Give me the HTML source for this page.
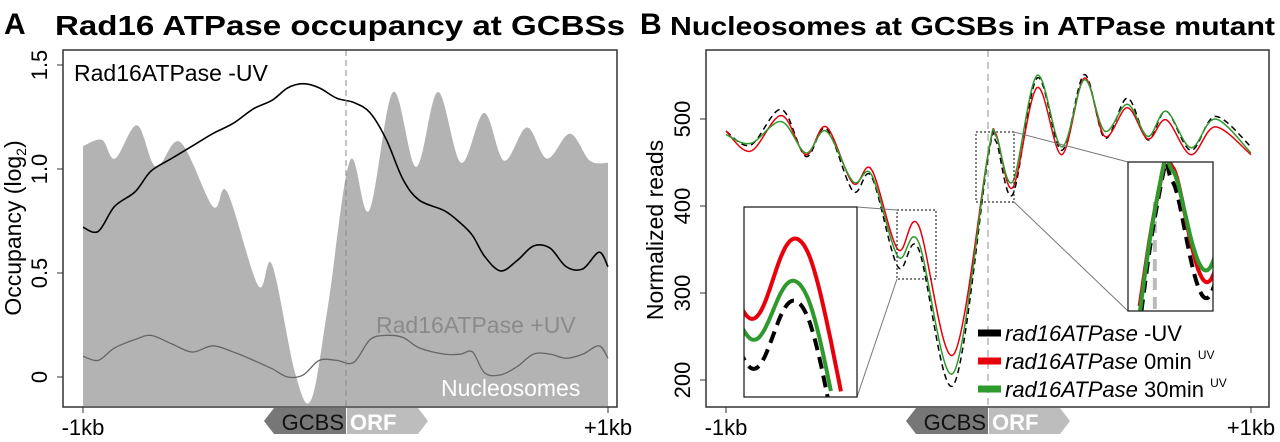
<!DOCTYPE html>
<html><head><meta charset="utf-8"><style>
html,body{margin:0;padding:0;background:#fff;width:1280px;height:442px;overflow:hidden;}
svg{display:block;font-family:"Liberation Sans",Arial,sans-serif;}
</style></head><body>
<svg id="fig" width="1280" height="442" viewBox="0 0 1280 442" xmlns="http://www.w3.org/2000/svg">
<defs>
<clipPath id="clipA"><rect x="63" y="50" width="554" height="357"/></clipPath>
<clipPath id="clipB"><rect x="706" y="50" width="563" height="357"/></clipPath>
<clipPath id="clipI1"><rect x="744" y="207" width="113" height="190"/></clipPath>
<clipPath id="clipI2"><rect x="1128" y="162" width="85" height="149"/></clipPath>
</defs>
<text x="4" y="34" font-size="30" font-weight="bold">A</text>
<text x="55" y="35" font-size="28" font-weight="bold" textLength="570" lengthAdjust="spacingAndGlyphs">Rad16 ATPase occupancy at GCBSs</text>
<text x="640" y="34" font-size="30" font-weight="bold">B</text>
<text x="670" y="35" font-size="26" font-weight="bold" textLength="605" lengthAdjust="spacingAndGlyphs">Nucleosomes at GCSBs in ATPase mutant</text>
<g id="pA"></g>
<g id="pB"></g>
</svg>
<script>
// ---- Panel A data (bp positions, log2 occupancy) ----
const nucPos=[-1000,-928,-878,-794,-722,-630,-505,-451,-333,-280,-192,-131,-67,17,90,181,269,352,440,528,604,691,768,855,931,1000];
const nucVal=[1.11,1.14,1.05,1.21,1.01,1.13,0.82,0.89,0.44,0.54,0.02,-0.11,0.34,1.04,0.80,1.37,1.01,1.37,1.03,1.27,1.04,1.20,1.05,1.17,1.04,1.03];
const uvPos=[-1000,-942,-880,-802,-741,-663,-584,-506,-427,-350,-280,-220,-161,-100,-33,31,94,156,219,281,376,438,484,530,591,654,716,779,841,904,966,1000];
const minusUV=[0.72,0.70,0.82,0.89,0.99,1.05,1.11,1.17,1.22,1.29,1.33,1.39,1.41,1.39,1.34,1.32,1.27,1.14,0.95,0.85,0.80,0.74,0.68,0.58,0.51,0.56,0.63,0.62,0.53,0.52,0.60,0.53];
const plusUV=[0.10,0.08,0.14,0.18,0.20,0.16,0.12,0.15,0.12,0.08,0.04,0.00,0.01,0.08,0.08,0.07,0.18,0.20,0.19,0.14,0.11,0.11,0.12,0.02,0.01,0.05,0.11,0.11,0.09,0.11,0.15,0.09];
const ticksA=[0,0.5,1.0,1.5], tickLabA=["0","0.5","1.0","1.5"];
// ---- Panel B data (bp positions, normalized reads) ----
const posB=[-1000,-906,-789,-696,-618,-516,-446,-345,-267,-134,-2,29,92,185,279,365,443,529,607,677,771,864,1000];
const red=[486,463,504,459,491,426,442,350,378,229,459,482,421,536,459,547,480,513,477,499,459,491,459];
const green=[482,472,497,461,486,428,436,342,359,208,459,480,428,550,468,545,486,517,480,509,467,500,461];
const black=[486,470,511,457,489,417,434,330,351,194,455,474,413,547,464,551,478,524,476,509,464,503,468];
const ticksB=[200,300,400,500], tickLabB=["200","300","400","500"];
const legendLabels=["-UV","0min","30min"];

const NS="http://www.w3.org/2000/svg";
function mk(tag,attrs,parent){const e=document.createElementNS(NS,tag);for(const k in attrs)e.setAttribute(k,attrs[k]);if(parent)parent.appendChild(e);return e;}
function segs(pts){const s=[];for(let i=0;i<pts.length-1;i++){const p0=pts[i-1]||pts[i],p1=pts[i],p2=pts[i+1],p3=pts[i+2]||p2;s.push([p1,[p1[0]+(p2[0]-p0[0])/6,p1[1]+(p2[1]-p0[1])/6],[p2[0]-(p3[0]-p1[0])/6,p2[1]-(p3[1]-p1[1])/6],p2]);}return s;}
function smooth(pts){let d="M"+pts[0][0]+","+pts[0][1];segs(pts).forEach(s=>{d+=" C"+s[1]+" "+s[2]+" "+s[3];});return d;}
function sample(pts,n){const out=[];segs(pts).forEach(s=>{for(let k=0;k<n;k++){const t=k/n,u=1-t;out.push([u*u*u*s[0][0]+3*u*u*t*s[1][0]+3*u*t*t*s[2][0]+t*t*t*s[3][0],u*u*u*s[0][1]+3*u*u*t*s[1][1]+3*u*t*t*s[2][1]+t*t*t*s[3][1]]);}});out.push(pts[pts.length-1]);return out;}

// ---------- Panel A ----------
const A=document.getElementById('pA');
const xA=b=>83+(b+1000)/2000*(608-83);
const yA=v=>377-v*208;
let g=mk('g',{'clip-path':'url(#clipA)'},A);
const nucPts=nucPos.map((p,i)=>[xA(p),yA(nucVal[i])]);
let e=mk('path',{d:smooth(nucPts)+` L${xA(1000)},406 L${xA(-1000)},406 Z`,fill:'#b3b3b3'},g);


e=mk('line',{x1:346,x2:346,y1:50,y2:407,stroke:'#888','stroke-dasharray':'6,4','stroke-width':1},A);


e=mk('path',{d:smooth(uvPos.map((p,i)=>[xA(p),yA(plusUV[i])])),fill:'none',stroke:'#666','stroke-width':1.3},g);


e=mk('path',{d:smooth(uvPos.map((p,i)=>[xA(p),yA(minusUV[i])])),fill:'none',stroke:'#000','stroke-width':1.6},g);


e=mk('rect',{x:63,y:50,width:554,height:357,fill:'none',stroke:'#333','stroke-width':1.5},A);


ticksA.forEach((t,i)=>{mk('line',{x1:57,x2:63,y1:yA(t),y2:yA(t),stroke:'#333'},A);
 const tx=mk('text',{x:0,y:0,'font-size':22,'text-anchor':'middle',transform:`translate(47,${yA(t)}) rotate(-90)`},A);tx.textContent=tickLabA[i];
 
 });
e=mk('text',{'font-size':23,'text-anchor':'middle',transform:'translate(21,228) rotate(-90)'},A);
e.innerHTML='Occupancy (log<tspan font-size="14" dy="5">2</tspan><tspan dy="-5">)</tspan>';


[[-1000,'-1kb'],[1000,'+1kb']].forEach(([b,l])=>{mk('line',{x1:xA(b),x2:xA(b),y1:407,y2:413,stroke:'#333'},A);const t=mk('text',{x:xA(b),y:435,'font-size':22,'text-anchor':'middle'},A);t.textContent=l;
 
 });
let tt=mk('text',{x:74,y:81,'font-size':23},A);tt.textContent='Rad16ATPase -UV';


tt=mk('text',{x:376,y:333,'font-size':23,fill:'#8a8a8a'},A);tt.textContent='Rad16ATPase +UV';


tt=mk('text',{x:441,y:396,'font-size':23,fill:'#fff'},A);tt.textContent='Nucleosomes';



function arrows(parent,cx){
 let a=mk('polygon',{points:`${cx},408 ${cx-72},408 ${cx-82},421 ${cx-72},434 ${cx},434`,fill:'#777'},parent);
 
 
 a=mk('polygon',{points:`${cx+1},408 ${cx+72},408 ${cx+82},421 ${cx+72},434 ${cx+1},434`,fill:'#bdbdbd'},parent);
 
 
 let t=mk('text',{x:cx-2,y:430,'font-size':22,'text-anchor':'end',fill:'#111'},parent);t.textContent='GCBS';
 
 
 t=mk('text',{x:cx+4,y:430,'font-size':22,'font-weight':'bold',fill:'#fff'},parent);t.textContent='ORF';
 
 
}
arrows(A,346);

// ---------- Panel B ----------
const B=document.getElementById('pB');
const xB=b=>726+(b+1000)/2000*(1251-726);
const yB=v=>380-(v-200)*0.87;
e=mk('line',{x1:988,x2:988,y1:50,y2:407,stroke:'#aaa','stroke-dasharray':'7,5','stroke-width':1.3},B);


const series=[[black,'#000','series-minus-uv'],[red,'#e8000b','series-0min'],[green,'#2e9a2e','series-30min']];
g=mk('g',{'clip-path':'url(#clipB)'},B);
series.forEach(([arr,col,name])=>{const a={d:smooth(posB.map((p,i)=>[xB(p),yB(arr[i])])),fill:'none',stroke:col,'stroke-width':1.5};if(col==='#000')a['stroke-dasharray']='6,4';
 const p=mk('path',a,g);
 
 });
[[897,210,39,69],[976,132,38,70]].forEach(r=>{const b=mk('rect',{x:r[0],y:r[1],width:r[2],height:r[3],fill:'none',stroke:'#333','stroke-dasharray':'2,2','stroke-width':1.2},B);
 
 });
[[857,207,897,210],[857,397,897,279],[1014,132,1128,162],[1014,202,1128,311]].forEach(l=>{mk('line',{x1:l[0],y1:l[1],x2:l[2],y2:l[3],stroke:'#777','stroke-width':1},B);});
function inset(box,src,clip,nm,vline){
 mk('rect',{x:box[0],y:box[1],width:box[2],height:box[3],fill:'#fff'},B);
 const cg=mk('g',{'clip-path':`url(#${clip})`},B);
 const sx=box[2]/src[2],sy=box[3]/src[3];
 const tf=p=>[box[0]+(p[0]-src[0])*sx,box[1]+(p[1]-src[1])*sy];
 const inside=p=>p[0]>=box[0]-6&&p[0]<=box[0]+box[2]+6&&p[1]>=box[1]-6&&p[1]<=box[1]+box[3]+6;
 if(vline){const x=tf([988,0])[0];mk('line',{x1:x,x2:x,y1:box[1]+40,y2:box[1]+box[3],stroke:'#bbb','stroke-width':4,'stroke-dasharray':'12,7'},cg);}
 series.forEach(([arr,col,name])=>{
  const pts=sample(posB.map((p,i)=>[xB(p),yB(arr[i])]),40).filter(p=>p[0]>=src[0]-3&&p[0]<=src[0]+src[2]+3).map(tf);
  let d='',pen=false;pts.forEach(p=>{if(inside(p)){d+=(pen?' L':' M')+p[0].toFixed(1)+','+p[1].toFixed(1);pen=true;}else pen=false;});
  const a={d:d,fill:'none',stroke:col,'stroke-width':4};if(col==='#000')a['stroke-dasharray']='12,7';
  const pp=mk('path',a,cg);
  
  });
 const r=mk('rect',{x:box[0],y:box[1],width:box[2],height:box[3],fill:'none',stroke:'#222','stroke-width':1.3},B);
 
 
}
inset([744,207,113,190],[897,210,39,69],'clipI1','inset-left',false);
inset([1128,162,85,149],[976,132,38,70],'clipI2','inset-right',true);
e=mk('rect',{x:706,y:50,width:563,height:357,fill:'none',stroke:'#333','stroke-width':1.5},B);


ticksB.forEach((t,i)=>{mk('line',{x1:700,x2:706,y1:yB(t),y2:yB(t),stroke:'#333'},B);
 const tx=mk('text',{'font-size':22,'text-anchor':'middle',transform:`translate(690,${yB(t)}) rotate(-90)`},B);tx.textContent=tickLabB[i];
 
 });
e=mk('text',{'font-size':23,'text-anchor':'middle',transform:'translate(663,230) rotate(-90)'},B);e.textContent='Normalized reads';


[[-1000,'-1kb'],[1000,'+1kb']].forEach(([b,l])=>{mk('line',{x1:xB(b),x2:xB(b),y1:407,y2:413,stroke:'#333'},B);const t=mk('text',{x:xB(b),y:435,'font-size':22,'text-anchor':'middle'},B);t.textContent=l;
 
 });
arrows(B,988);
const legCols=['#000','#e8000b','#2e9a2e'];
legendLabels.forEach((lab,i)=>{const y=333+i*28;
 const sw=mk('line',{x1:978,x2:1001,y1:y,y2:y,stroke:legCols[i],'stroke-width':7},B);
 
 
 const t=mk('text',{x:1005,y:y+8,'font-size':22},B);
 t.innerHTML='<tspan font-style="italic">rad16ATPase</tspan> '+lab+(i>0?' <tspan font-size="12" dy="-10">UV</tspan>':'');
 
 });
</script>
</body></html>
